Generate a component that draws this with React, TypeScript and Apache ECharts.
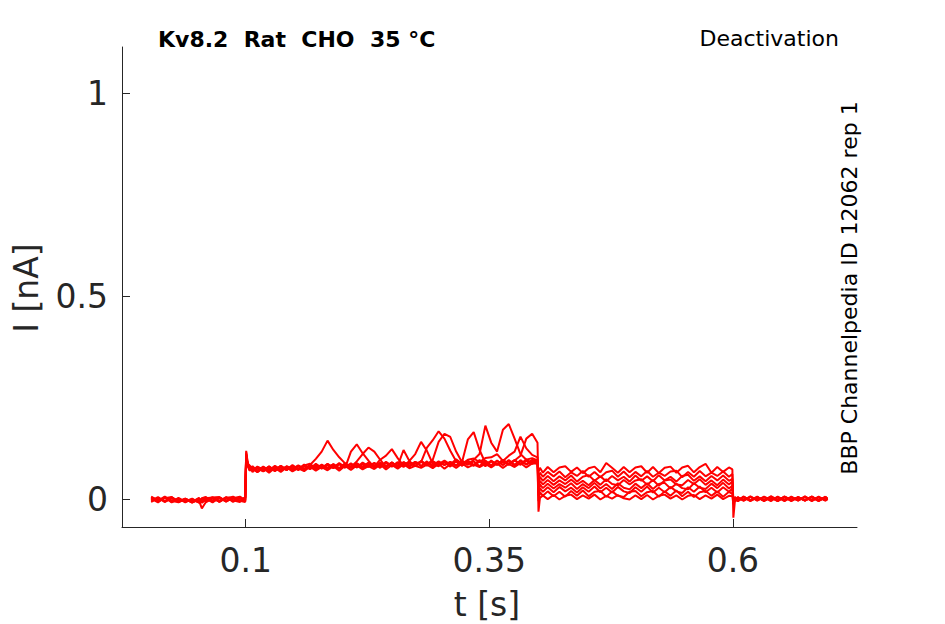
import React, { useEffect, useRef } from "react";
import * as echarts from "echarts";

// time samples (s) for the four protocol phases
const T_PRE = [0.003, 0.010, 0.017, 0.024, 0.031, 0.038, 0.045, 0.052, 0.055, 0.059, 0.066, 0.073, 0.080, 0.087, 0.094, 0.0995];
const T_PULSE1 = [0.1005, 0.102, 0.104, 0.107, 0.112, 0.118, 0.124, 0.130, 0.136, 0.142, 0.148, 0.154, 0.160, 0.166, 0.172, 0.178, 0.184, 0.190, 0.196, 0.202, 0.208, 0.214, 0.220, 0.226, 0.232, 0.238, 0.244, 0.250, 0.256, 0.262, 0.268, 0.274, 0.280, 0.286, 0.292, 0.298, 0.304, 0.310, 0.316, 0.322, 0.328, 0.334, 0.340, 0.346, 0.352, 0.358, 0.364, 0.370, 0.376, 0.382, 0.388, 0.394, 0.3995];
const T_PULSE2 = [0.4005, 0.402, 0.405, 0.410, 0.416, 0.422, 0.428, 0.434, 0.440, 0.446, 0.452, 0.458, 0.464, 0.470, 0.476, 0.482, 0.488, 0.494, 0.500, 0.506, 0.512, 0.518, 0.524, 0.530, 0.536, 0.542, 0.548, 0.554, 0.560, 0.566, 0.572, 0.578, 0.584, 0.590, 0.596, 0.5995];
const T_POST = [0.6005, 0.602, 0.605, 0.611, 0.618, 0.625, 0.632, 0.639, 0.646, 0.653, 0.660, 0.667, 0.674, 0.681, 0.688, 0.695, 0.697];

// current (nA) per sweep, phase by phase
const PRE = [
  [0.004, -0.005, 0.006, -0.003, -0.007, 0.001, -0.006, -0.002, -0.022, -0.007, 0.003, -0.005, 0.005, -0.004, 0.006, -0.002],
  [-0.005, 0.004, -0.004, 0.006, -0.006, 0.002, -0.008, 0.001, -0.006, 0.003, 0.005, -0.005, 0.004, 0.006, -0.004, 0.004],
  [0.006, -0.003, 0.007, -0.004, 0.002, -0.007, 0.001, -0.007, 0.000, 0.005, -0.006, 0.004, -0.005, 0.005, -0.003, -0.006],
  [-0.003, 0.006, -0.006, 0.004, -0.004, 0.002, -0.007, 0.002, -0.008, 0.001, 0.005, 0.006, -0.004, 0.003, 0.007, -0.002],
  [0.002, -0.007, 0.005, -0.006, -0.001, -0.005, 0.002, -0.008, 0.003, -0.004, 0.002, -0.004, 0.006, -0.006, 0.004, -0.004],
  [0.007, -0.002, 0.003, 0.006, -0.005, 0.001, -0.004, 0.002, -0.007, -0.001, 0.005, -0.006, 0.004, -0.002, -0.006, 0.006],
  [-0.006, 0.004, -0.006, 0.003, -0.006, 0.000, -0.007, 0.004, -0.005, 0.002, -0.007, 0.005, -0.005, 0.007, -0.003, 0.003],
  [0.004, -0.005, 0.005, -0.007, 0.004, -0.005, 0.000, -0.007, 0.003, 0.006, -0.004, 0.003, -0.002, 0.002, -0.004, 0.005],
];

const PULSE1 = [
  [0.120, 0.092, 0.076, 0.082, 0.070, 0.081, 0.072, 0.083, 0.074, 0.081, 0.075, 0.084, 0.076, 0.085, 0.100, 0.118, 0.145, 0.122, 0.104, 0.089, 0.080, 0.094, 0.112, 0.128, 0.118, 0.098, 0.080, 0.091, 0.079, 0.092, 0.081, 0.093, 0.082, 0.094, 0.080, 0.092, 0.085, 0.093, 0.083, 0.095, 0.086, 0.094, 0.082, 0.096, 0.084, 0.095, 0.085, 0.097, 0.086, 0.094, 0.087, 0.098, 0.092],
  [0.112, 0.086, 0.081, 0.068, 0.079, 0.069, 0.078, 0.070, 0.080, 0.073, 0.081, 0.074, 0.082, 0.075, 0.084, 0.076, 0.085, 0.077, 0.087, 0.078, 0.118, 0.136, 0.114, 0.096, 0.079, 0.090, 0.080, 0.091, 0.081, 0.089, 0.082, 0.090, 0.092, 0.128, 0.146, 0.168, 0.150, 0.120, 0.094, 0.083, 0.095, 0.084, 0.094, 0.082, 0.096, 0.085, 0.093, 0.087, 0.097, 0.086, 0.095, 0.088, 0.095],
  [0.105, 0.088, 0.084, 0.073, 0.078, 0.070, 0.082, 0.071, 0.080, 0.073, 0.083, 0.072, 0.084, 0.076, 0.083, 0.077, 0.088, 0.078, 0.087, 0.080, 0.086, 0.079, 0.088, 0.080, 0.089, 0.078, 0.090, 0.081, 0.092, 0.080, 0.091, 0.082, 0.093, 0.086, 0.098, 0.142, 0.162, 0.154, 0.118, 0.092, 0.148, 0.166, 0.122, 0.090, 0.084, 0.096, 0.085, 0.095, 0.083, 0.097, 0.086, 0.094, 0.098],
  [0.116, 0.089, 0.073, 0.079, 0.072, 0.080, 0.071, 0.081, 0.070, 0.082, 0.076, 0.083, 0.074, 0.082, 0.077, 0.084, 0.078, 0.085, 0.077, 0.088, 0.078, 0.087, 0.081, 0.089, 0.080, 0.090, 0.082, 0.091, 0.079, 0.092, 0.084, 0.093, 0.083, 0.091, 0.084, 0.094, 0.085, 0.092, 0.084, 0.095, 0.086, 0.098, 0.112, 0.182, 0.140, 0.118, 0.172, 0.186, 0.150, 0.112, 0.098, 0.102, 0.096],
  [0.101, 0.085, 0.074, 0.078, 0.068, 0.079, 0.069, 0.080, 0.072, 0.081, 0.071, 0.083, 0.073, 0.084, 0.075, 0.083, 0.076, 0.087, 0.075, 0.086, 0.079, 0.088, 0.078, 0.086, 0.080, 0.090, 0.079, 0.091, 0.083, 0.122, 0.095, 0.112, 0.142, 0.120, 0.088, 0.082, 0.093, 0.081, 0.094, 0.084, 0.092, 0.083, 0.095, 0.085, 0.094, 0.086, 0.097, 0.085, 0.096, 0.108, 0.150, 0.162, 0.140],
  [0.110, 0.087, 0.082, 0.072, 0.081, 0.074, 0.080, 0.072, 0.083, 0.073, 0.085, 0.075, 0.086, 0.076, 0.088, 0.078, 0.087, 0.079, 0.090, 0.080, 0.089, 0.079, 0.091, 0.082, 0.090, 0.081, 0.093, 0.083, 0.089, 0.084, 0.094, 0.083, 0.095, 0.086, 0.093, 0.087, 0.096, 0.086, 0.099, 0.088, 0.098, 0.101, 0.092, 0.102, 0.104, 0.112, 0.095, 0.108, 0.118, 0.155, 0.126, 0.110, 0.104],
  [0.098, 0.082, 0.071, 0.076, 0.067, 0.077, 0.066, 0.078, 0.068, 0.079, 0.069, 0.077, 0.070, 0.081, 0.071, 0.080, 0.072, 0.082, 0.071, 0.083, 0.073, 0.084, 0.074, 0.082, 0.075, 0.086, 0.074, 0.085, 0.076, 0.087, 0.077, 0.083, 0.078, 0.086, 0.077, 0.088, 0.076, 0.087, 0.078, 0.089, 0.079, 0.086, 0.080, 0.088, 0.079, 0.089, 0.078, 0.088, 0.080, 0.090, 0.079, 0.089, 0.088],
  [0.108, 0.084, 0.080, 0.071, 0.079, 0.070, 0.081, 0.072, 0.083, 0.073, 0.082, 0.074, 0.084, 0.088, 0.076, 0.086, 0.078, 0.087, 0.077, 0.089, 0.079, 0.090, 0.080, 0.091, 0.081, 0.098, 0.108, 0.124, 0.102, 0.083, 0.093, 0.082, 0.094, 0.083, 0.095, 0.084, 0.092, 0.085, 0.096, 0.084, 0.095, 0.085, 0.097, 0.088, 0.094, 0.087, 0.098, 0.088, 0.097, 0.086, 0.099, 0.089, 0.097],
];

const PULSE2 = [
  [0.068, 0.078, 0.066, 0.080, 0.067, 0.079, 0.082, 0.068, 0.079, 0.065, 0.077, 0.081, 0.067, 0.090, 0.078, 0.066, 0.080, 0.067, 0.079, 0.082, 0.066, 0.080, 0.065, 0.078, 0.081, 0.066, 0.079, 0.083, 0.067, 0.080, 0.088, 0.066, 0.080, 0.068, 0.079, 0.074],
  [0.052, 0.066, 0.056, 0.068, 0.057, 0.069, 0.055, 0.067, 0.058, 0.070, 0.056, 0.068, 0.055, 0.067, 0.071, 0.056, 0.069, 0.055, 0.068, 0.057, 0.070, 0.056, 0.066, 0.058, 0.069, 0.071, 0.055, 0.068, 0.056, 0.070, 0.057, 0.066, 0.058, 0.069, 0.056, 0.063],
  [0.040, 0.056, 0.046, 0.058, 0.045, 0.057, 0.047, 0.059, 0.044, 0.056, 0.060, 0.046, 0.057, 0.045, 0.058, 0.047, 0.056, 0.044, 0.059, 0.046, 0.057, 0.045, 0.060, 0.047, 0.056, 0.044, 0.058, 0.061, 0.046, 0.057, 0.045, 0.058, 0.047, 0.059, 0.046, 0.051],
  [0.030, 0.046, 0.037, 0.048, 0.036, 0.047, 0.038, 0.049, 0.037, 0.046, 0.035, 0.048, 0.036, 0.050, 0.038, 0.035, 0.048, 0.037, 0.047, 0.050, 0.036, 0.048, 0.034, 0.047, 0.049, 0.037, 0.035, 0.048, 0.038, 0.050, 0.036, 0.047, 0.035, 0.049, 0.037, 0.044],
  [0.018, 0.037, 0.028, 0.039, 0.027, 0.038, 0.029, 0.040, 0.026, 0.038, 0.028, 0.041, 0.027, 0.038, 0.026, 0.040, 0.029, 0.025, 0.039, 0.028, 0.040, 0.026, 0.038, 0.041, 0.027, 0.039, 0.028, 0.025, 0.040, 0.029, 0.026, 0.039, 0.028, 0.041, 0.027, 0.034],
  [0.010, 0.028, 0.019, 0.030, 0.018, 0.031, 0.020, 0.029, 0.017, 0.030, 0.019, 0.032, 0.018, 0.029, 0.017, 0.031, 0.020, 0.016, 0.030, 0.019, 0.032, 0.017, 0.029, 0.018, 0.031, 0.020, 0.016, 0.030, 0.019, 0.032, 0.018, 0.029, 0.017, 0.030, 0.019, 0.027],
  [-0.004, 0.018, 0.009, 0.020, 0.008, 0.019, 0.007, 0.021, 0.009, 0.022, 0.008, 0.019, 0.021, 0.007, 0.020, 0.009, 0.006, 0.019, 0.021, 0.008, 0.018, 0.021, 0.007, 0.020, 0.009, 0.022, 0.008, 0.019, 0.006, 0.018, 0.021, 0.009, 0.020, 0.007, 0.019, 0.014],
  [-0.030, 0.004, 0.010, 0.001, 0.011, 0.000, 0.009, 0.012, 0.001, 0.010, 0.002, 0.012, 0.000, 0.009, 0.002, 0.011, 0.003, 0.000, 0.010, 0.001, 0.011, 0.000, 0.009, 0.012, 0.002, 0.010, 0.000, 0.009, 0.011, 0.001, 0.010, 0.002, 0.012, 0.001, 0.009, 0.008],
];

const POST = [
  [-0.045, -0.006, 0.005, -0.003, 0.006, -0.002, 0.007, -0.001, 0.006, -0.003, 0.005, -0.002, 0.007, -0.004, 0.006, -0.002, 0.002],
  [-0.008, 0.005, -0.003, 0.006, -0.002, 0.007, -0.004, 0.006, -0.003, 0.007, -0.001, 0.005, -0.003, 0.007, -0.002, 0.006, 0.001],
  [-0.006, 0.006, -0.004, 0.007, -0.002, 0.005, -0.003, 0.008, -0.001, 0.006, -0.004, 0.005, -0.002, 0.007, -0.003, 0.005, 0.003],
  [-0.010, -0.002, 0.006, -0.003, 0.007, -0.001, 0.005, -0.004, 0.007, -0.002, 0.006, -0.003, 0.008, -0.002, 0.005, -0.003, 0.000],
  [-0.005, 0.004, -0.004, 0.006, -0.003, 0.006, -0.002, 0.005, -0.004, 0.007, -0.002, 0.006, -0.003, 0.005, -0.004, 0.006, 0.002],
  [-0.004, -0.003, 0.005, -0.002, 0.008, -0.003, 0.006, -0.001, 0.005, -0.004, 0.007, -0.002, 0.006, -0.003, 0.007, -0.002, 0.003],
  [-0.003, 0.006, -0.002, 0.005, -0.004, 0.006, -0.003, 0.007, -0.002, 0.005, -0.003, 0.006, -0.001, 0.007, -0.003, 0.005, 0.001],
  [-0.012, 0.003, -0.004, 0.007, -0.002, 0.005, -0.003, 0.006, -0.004, 0.007, -0.001, 0.005, -0.002, 0.006, -0.003, 0.007, -0.001],
];

const X_TICKS = [0.1, 0.35, 0.6];
const Y_TICKS = [0, 0.5, 1];

const TITLE = "Kv8.2  Rat  CHO  35 °C";
const PROTOCOL = "Deactivation";
const SOURCE = "BBP Channelpedia ID 12062 rep 1";
const X_NAME = "t [s]";
const Y_NAME = "I [nA]";

const FONT = "'DejaVu Sans', 'Liberation Sans', sans-serif";
const AXIS_COLOR = "#262626";
const TRACE_COLOR = "#ff0000";

function sweepData(i: number): [number, number][] {
  const t = [...T_PRE, ...T_PULSE1, ...T_PULSE2, ...T_POST];
  const v = [...PRE[i], ...PULSE1[i], ...PULSE2[i], ...POST[i]];
  const n = Math.min(t.length, v.length);
  const out: [number, number][] = [];
  for (let k = 0; k < n; k++) out.push([t[k], v[k]]);
  return out;
}

export default function App() {
  const ref = useRef<HTMLDivElement>(null);
  useEffect(() => {
    if (!ref.current) return;
    const chart = echarts.init(ref.current, null, { renderer: "svg" });
    const series = PRE.map((_, i) => ({
      type: "line",
      data: sweepData(i),
      showSymbol: false,
      symbol: "none",
      silent: true,
      lineStyle: { color: TRACE_COLOR, width: 2 },
    }));
    chart.setOption({
      animation: false,
      backgroundColor: "#ffffff",
      grid: { left: 122, right: 88, top: 47, bottom: 97, containLabel: false },
      xAxis: {
        type: "value",
        min: -0.02695,
        max: 0.7274,
        axisLine: { show: true, onZero: false, lineStyle: { color: AXIS_COLOR, width: 1 } },
        axisTick: { show: true, inside: true, length: 8, lineStyle: { color: AXIS_COLOR, width: 1 }, customValues: X_TICKS },
        axisLabel: { show: true, customValues: X_TICKS, fontSize: 33, color: AXIS_COLOR, margin: 17, fontFamily: FONT },
        splitLine: { show: false },
      },
      yAxis: {
        type: "value",
        min: -0.0678,
        max: 1.1151,
        axisLine: { show: true, onZero: false, lineStyle: { color: AXIS_COLOR, width: 1 } },
        axisTick: { show: true, inside: true, length: 8, lineStyle: { color: AXIS_COLOR, width: 1 }, customValues: Y_TICKS },
        axisLabel: { show: true, customValues: Y_TICKS, fontSize: 33, color: AXIS_COLOR, margin: 14, fontFamily: FONT },
        splitLine: { show: false },
      },
      graphic: [
        {
          type: "text",
          x: 158,
          y: 39.5,
          style: { text: TITLE, fill: "#000000", fontSize: 22, fontWeight: "bold", fontFamily: FONT, align: "left", verticalAlign: "middle", textAlign: "left", textVerticalAlign: "middle" },
        },
        {
          type: "text",
          x: 839,
          y: 38.5,
          style: { text: PROTOCOL, fill: "#000000", fontSize: 22, fontFamily: FONT, align: "right", verticalAlign: "middle", textAlign: "right", textVerticalAlign: "middle" },
        },
        {
          type: "text",
          x: 849.5,
          y: 288,
          rotation: Math.PI / 2,
          style: { text: SOURCE, fill: "#000000", fontSize: 22, fontFamily: FONT, align: "center", verticalAlign: "middle", textAlign: "center", textVerticalAlign: "middle" },
        },
        {
          type: "text",
          x: 487,
          y: 604,
          style: { text: X_NAME, fill: AXIS_COLOR, fontSize: 33, fontFamily: FONT, align: "center", verticalAlign: "middle", textAlign: "center", textVerticalAlign: "middle" },
        },
        {
          type: "text",
          x: 26.5,
          y: 288,
          rotation: Math.PI / 2,
          style: { text: Y_NAME, fill: AXIS_COLOR, fontSize: 33, fontFamily: FONT, align: "center", verticalAlign: "middle", textAlign: "center", textVerticalAlign: "middle" },
        },
      ],
      series,
    });
    return () => chart.dispose();
  }, []);
  return (
    <div
      ref={ref}
      style={{ position: "absolute", left: 0, top: 0, width: 945, height: 624, background: "#ffffff" }}
    />
  );
}
